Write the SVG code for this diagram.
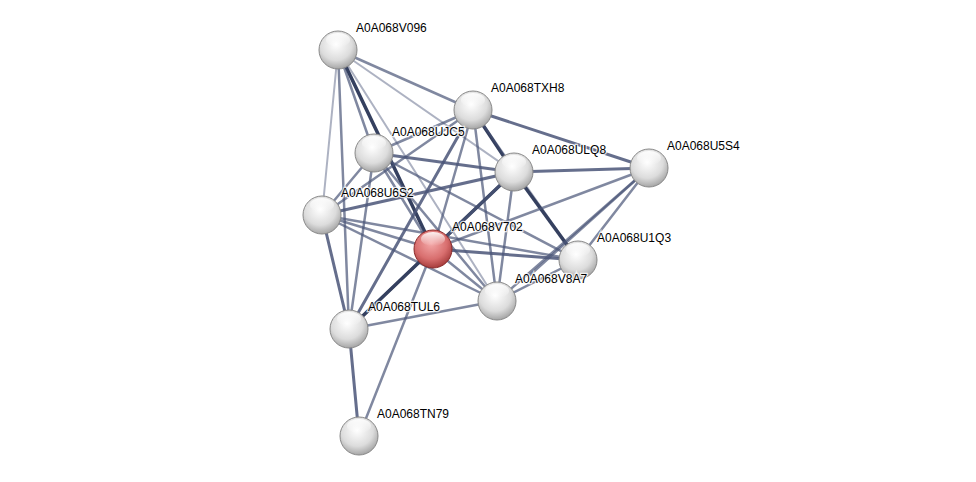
<svg xmlns="http://www.w3.org/2000/svg" width="976" height="482" viewBox="0 0 976 482">
<defs>
<radialGradient id="g" cx="0.45" cy="0.35" r="0.7">
<stop offset="0" stop-color="#ffffff"/>
<stop offset="0.6" stop-color="#dcdcdc"/>
<stop offset="1" stop-color="#9a9a9a"/>
</radialGradient>
<radialGradient id="r" cx="0.45" cy="0.35" r="0.7">
<stop offset="0" stop-color="#f4a8a8"/>
<stop offset="0.6" stop-color="#d86e6e"/>
<stop offset="1" stop-color="#9c3232"/>
</radialGradient>
<linearGradient id="hl" x1="0" y1="0" x2="0" y2="1">
<stop offset="0" stop-color="#ffffff" stop-opacity="0.9"/>
<stop offset="1" stop-color="#ffffff" stop-opacity="0"/>
</linearGradient>
</defs>
<style>
.e{stroke:#4a5578;fill:none;stroke-linecap:round}
.w1{stroke-width:2;stroke-opacity:0.45}
.w2{stroke-width:2.5;stroke-opacity:0.7}
.w3{stroke-width:3;stroke-opacity:0.85}
.w4{stroke-width:3.5;stroke-opacity:1;stroke:#35405f}
.n{fill:url(#g);stroke:#888;stroke-width:1}
.nr{fill:url(#r);stroke:#8a2a2a;stroke-width:1}
.h{fill:url(#hl)}
text{font-family:"Liberation Sans",Arial,sans-serif;font-size:12px;fill:#000;paint-order:stroke;stroke:#fff;stroke-width:2.5px;stroke-opacity:0.8}
</style>
<rect width="976" height="482" fill="#fff"/>
<g id="edges">
<line class="e w1" x1="338" y1="50" x2="322" y2="215"/>
<line class="e w2" x1="338" y1="50" x2="473" y2="110"/>
<line class="e w1" x1="338" y1="50" x2="514" y2="172"/>
<line class="e w4" x1="338" y1="50" x2="433" y2="249"/>
<line class="e w1" x1="338" y1="50" x2="497" y2="301"/>
<line class="e w2" x1="338" y1="50" x2="374" y2="153"/>
<line class="e w2" x1="338" y1="50" x2="349" y2="329"/>
<line class="e w2" x1="473" y1="110" x2="374" y2="153"/>
<line class="e w2" x1="473" y1="110" x2="322" y2="215"/>
<line class="e w4" x1="473" y1="110" x2="514" y2="172"/>
<line class="e w3" x1="473" y1="110" x2="649" y2="168"/>
<line class="e w2" x1="473" y1="110" x2="433" y2="249"/>
<line class="e w2" x1="473" y1="110" x2="497" y2="301"/>
<line class="e w3" x1="473" y1="110" x2="349" y2="329"/>
<line class="e w1" x1="473" y1="110" x2="578" y2="260"/>
<line class="e w2" x1="374" y1="153" x2="322" y2="215"/>
<line class="e w3" x1="374" y1="153" x2="514" y2="172"/>
<line class="e w2" x1="374" y1="153" x2="433" y2="249"/>
<line class="e w2" x1="374" y1="153" x2="497" y2="301"/>
<line class="e w2" x1="374" y1="153" x2="349" y2="329"/>
<line class="e w2" x1="374" y1="153" x2="578" y2="260"/>
<line class="e w3" x1="514" y1="172" x2="322" y2="215"/>
<line class="e w3" x1="514" y1="172" x2="649" y2="168"/>
<line class="e w4" x1="514" y1="172" x2="433" y2="249"/>
<line class="e w4" x1="514" y1="172" x2="578" y2="260"/>
<line class="e w2" x1="514" y1="172" x2="497" y2="301"/>
<line class="e w2" x1="514" y1="172" x2="349" y2="329"/>
<line class="e w2" x1="649" y1="168" x2="433" y2="249"/>
<line class="e w2" x1="649" y1="168" x2="578" y2="260"/>
<line class="e w2" x1="649" y1="168" x2="497" y2="301"/>
<line class="e w2" x1="649" y1="168" x2="530" y2="275"/>
<line class="e w2" x1="322" y1="215" x2="433" y2="249"/>
<line class="e w2" x1="322" y1="215" x2="497" y2="301"/>
<line class="e w3" x1="322" y1="215" x2="349" y2="329"/>
<line class="e w2" x1="322" y1="215" x2="578" y2="260"/>
<line class="e w3" x1="433" y1="249" x2="578" y2="260"/>
<line class="e w2" x1="433" y1="249" x2="497" y2="301"/>
<line class="e w4" x1="433" y1="249" x2="349" y2="329"/>
<line class="e w2" x1="433" y1="249" x2="359" y2="436"/>
<line class="e w2" x1="497" y1="301" x2="349" y2="329"/>
<line class="e w2" x1="497" y1="301" x2="578" y2="260"/>
<line class="e w3" x1="349" y1="329" x2="359" y2="436"/>
</g>
<g id="n_V096"><circle class="n" cx="338" cy="50" r="19"/><ellipse class="h" cx="338" cy="40" rx="12" ry="7"/><text x="356" y="32">A0A068V096</text></g>
<g id="n_TXH8"><circle class="n" cx="473" cy="110" r="19"/><ellipse class="h" cx="473" cy="100" rx="12" ry="7"/><text x="491" y="92">A0A068TXH8</text></g>
<g id="n_UJC5"><circle class="n" cx="374" cy="153" r="19"/><ellipse class="h" cx="374" cy="143" rx="12" ry="7"/><text x="392" y="136">A0A068UJC5</text></g>
<g id="n_ULQ8"><circle class="n" cx="514" cy="172" r="19"/><ellipse class="h" cx="514" cy="162" rx="12" ry="7"/><text x="532" y="154">A0A068ULQ8</text></g>
<g id="n_U5S4"><circle class="n" cx="649" cy="168" r="19"/><ellipse class="h" cx="649" cy="158" rx="12" ry="7"/><text x="667" y="150">A0A068U5S4</text></g>
<g id="n_U6S2"><circle class="n" cx="322" cy="215" r="19"/><ellipse class="h" cx="322" cy="205" rx="12" ry="7"/><text x="341" y="197">A0A068U6S2</text></g>
<g id="n_V702"><circle class="nr" cx="433" cy="249" r="19"/><ellipse class="h" cx="433" cy="239" rx="12" ry="7"/><text x="452" y="231">A0A068V702</text></g>
<g id="n_U1Q3"><circle class="n" cx="578" cy="260" r="19"/><ellipse class="h" cx="578" cy="250" rx="12" ry="7"/><text x="597" y="242">A0A068U1Q3</text></g>
<g id="n_V8A7"><circle class="n" cx="497" cy="301" r="19"/><ellipse class="h" cx="497" cy="291" rx="12" ry="7"/><text x="515" y="283">A0A068V8A7</text></g>
<g id="n_TUL6"><circle class="n" cx="349" cy="329" r="19"/><ellipse class="h" cx="349" cy="319" rx="12" ry="7"/><text x="368" y="311">A0A068TUL6</text></g>
<g id="n_TN79"><circle class="n" cx="359" cy="436" r="19"/><ellipse class="h" cx="359" cy="426" rx="12" ry="7"/><text x="377" y="418">A0A068TN79</text></g>
</svg>
